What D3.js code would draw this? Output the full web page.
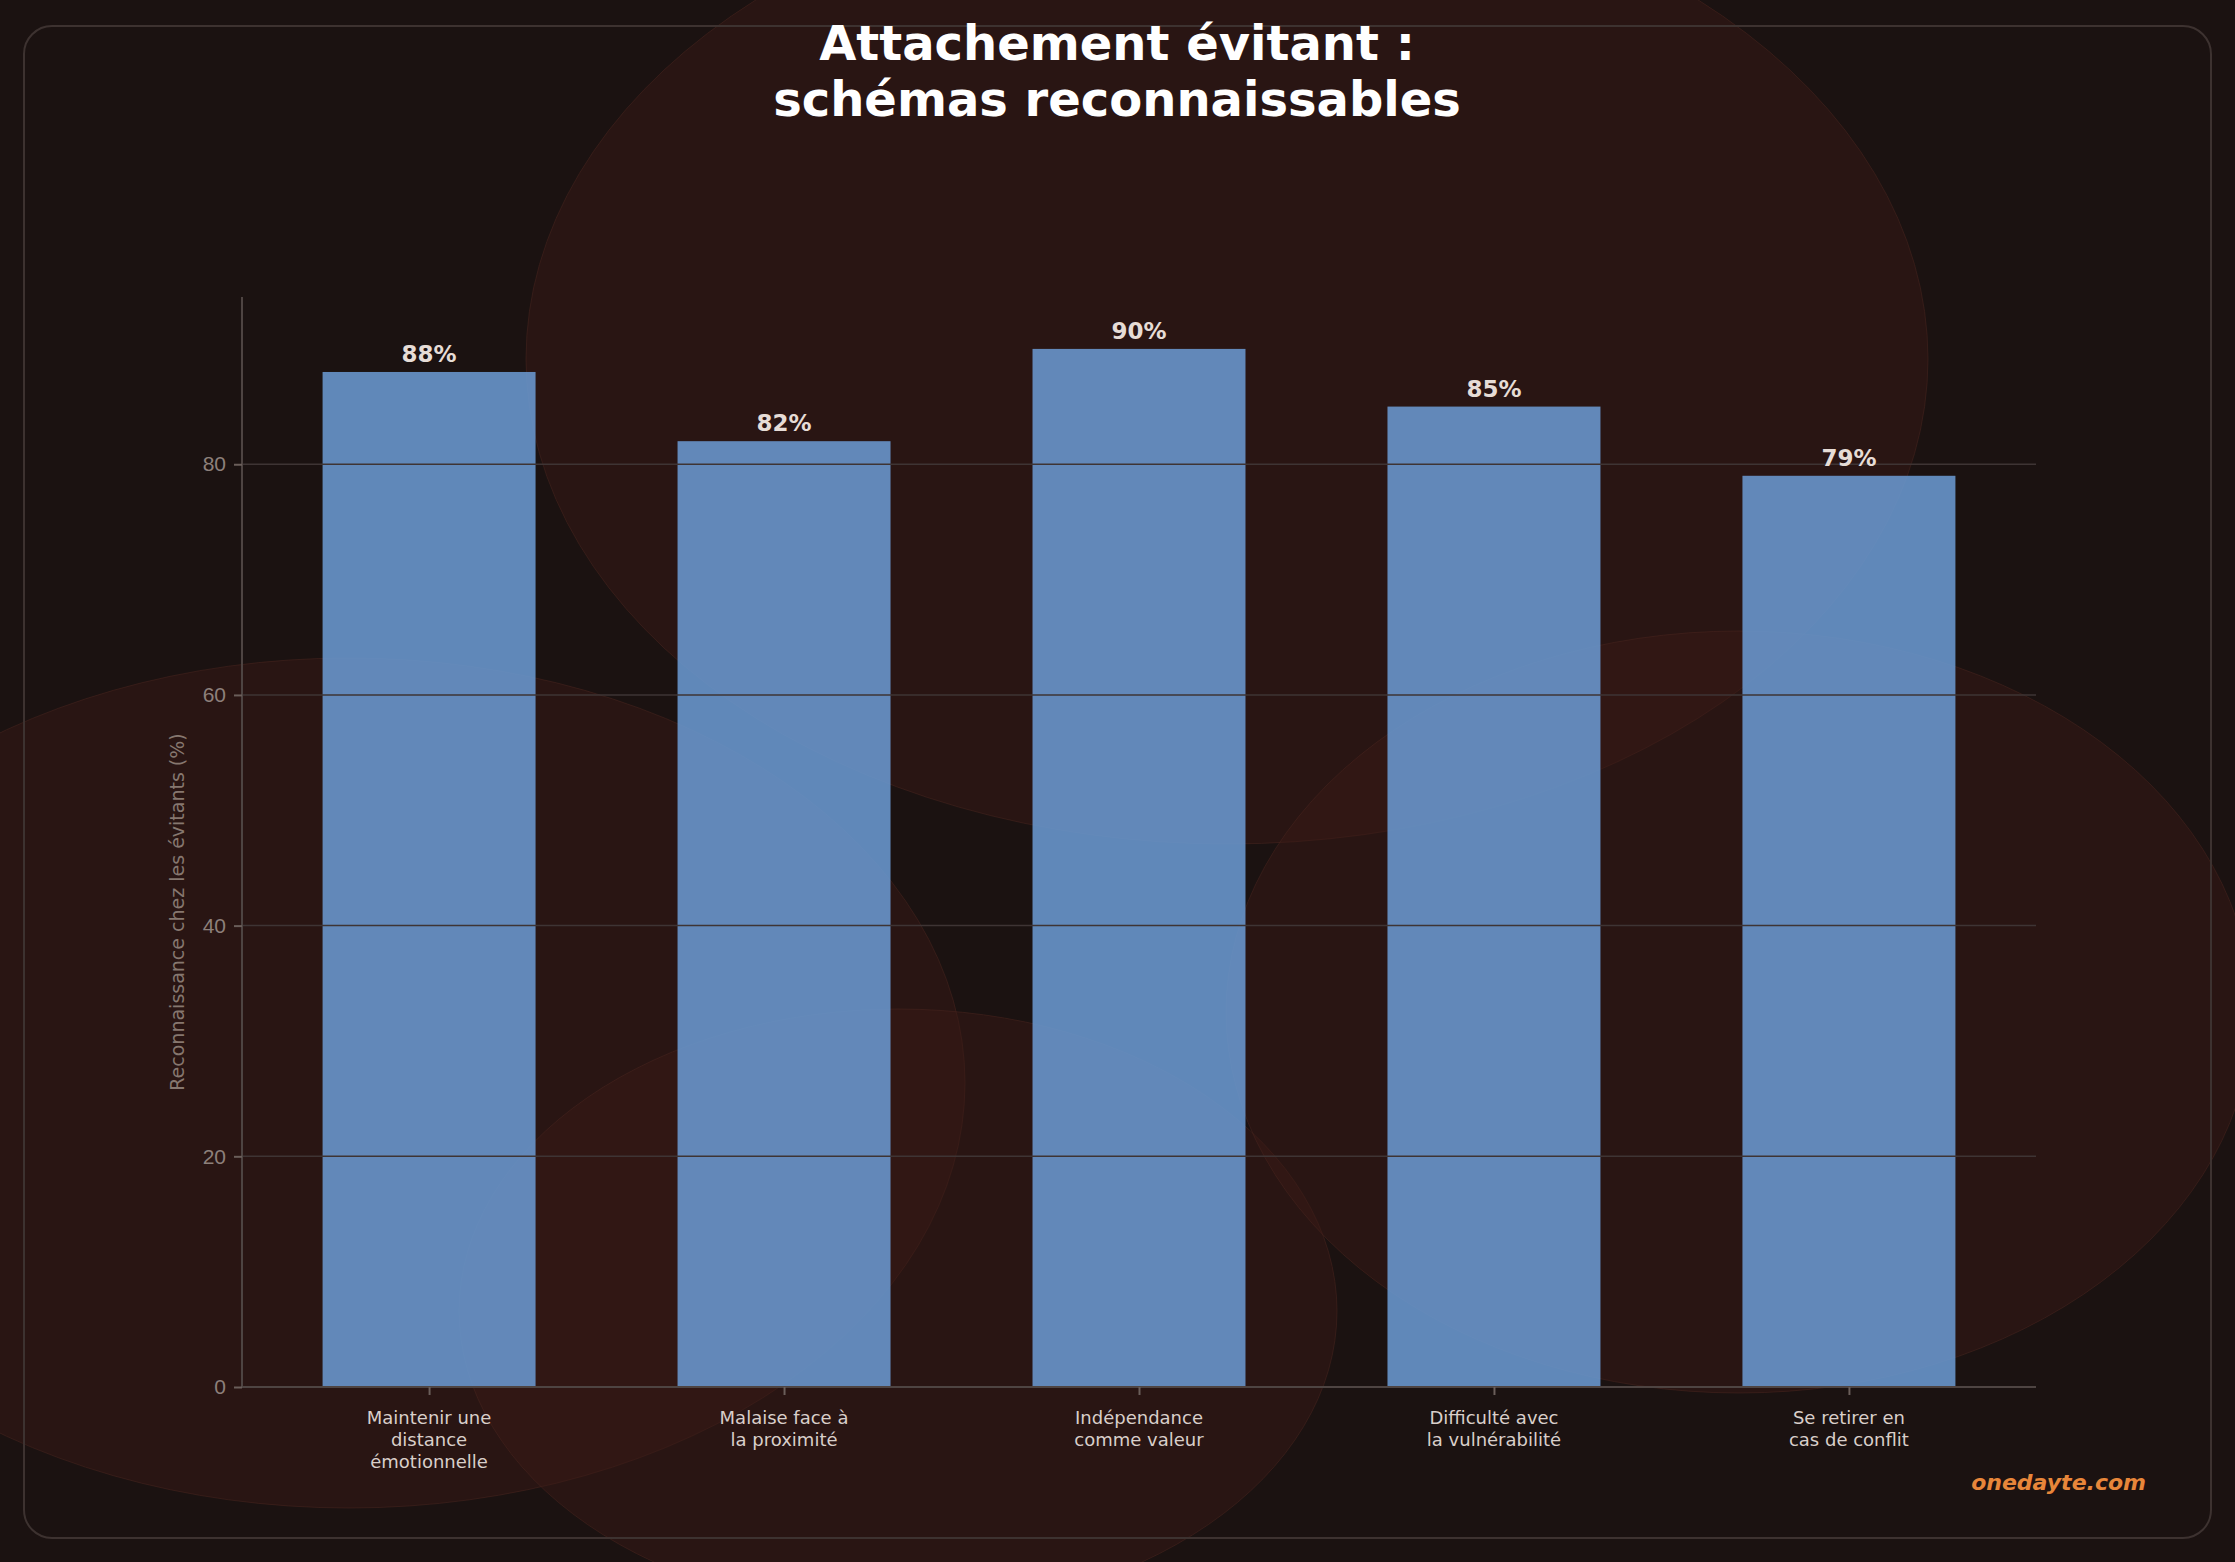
<!DOCTYPE html>
<html><head><meta charset="utf-8">
<script src="https://cdn.jsdelivr.net/npm/d3@7"></script>
<style>body{margin:0;background:#1b1211;}svg{display:block;font-family:"DejaVu Sans",sans-serif;}</style>
</head><body>
<script>
var w = 2235, h = 1562;

// data
var categories = ["Maintenir une\ndistance\némotionnelle", "Malaise face à\nla proximité", "Indépendance\ncomme valeur", "Difficulté avec\nla vulnérabilité", "Se retirer en\ncas de conflit"];
var values = [88, 82, 90, 85, 79];
var yTicks = [0, 20, 40, 60, 80];

var svg = d3.select("body").append("svg").attr("width", w).attr("height", h);
svg.append("rect").attr("width", w).attr("height", h).attr("fill", "#1b1211");

// soft background blobs
var blobs = [[1227, 359, 701, 485], [349, 1083, 616, 425], [898, 1311, 439, 302], [1739, 1012, 513, 381]];
svg.selectAll("ellipse").data(blobs).enter().append("ellipse")
    .attr("cx", d => d[0]).attr("cy", d => d[1]).attr("rx", d => d[2]).attr("ry", d => d[3])
    .attr("fill", "#3c1a16").attr("fill-opacity", 0.45)
    .attr("stroke", "#4a2620").attr("stroke-opacity", 0.5);

svg.append("rect").attr("x", 24).attr("y", 26).attr("width", 2187).attr("height", 1512)
    .attr("rx", 28).attr("fill", "none").attr("stroke", "#3d3230").attr("stroke-width", 2);

var pLeft = 242, pRight = 2036, pTop = 297, pBottom = 1387;
var x = d3.scaleLinear().domain([-0.527, 4.527]).range([pLeft, pRight]);
var y = d3.scaleLinear().domain([0, 94.5]).range([pBottom, pTop]);
var bw = x(0.6) - x(0);

// bars
svg.append("g").selectAll("rect").data(values).enter().append("rect")
    .attr("x", (d, i) => x(i) - bw / 2).attr("width", bw)
    .attr("y", d => y(d)).attr("height", d => y(0) - y(d))
    .attr("fill", "#6a98d0").attr("fill-opacity", 0.88);

// grid over bars
svg.append("g").selectAll("line").data(yTicks.slice(1)).enter().append("line")
    .attr("x1", pLeft).attr("x2", pRight).attr("y1", d => y(d)).attr("y2", d => y(d))
    .attr("stroke", "#3e3434").attr("stroke-width", 1.5);

// axes
var yAxis = svg.append("g").attr("transform", "translate(" + pLeft + ",0)")
    .call(d3.axisLeft(y).tickValues(yTicks).tickSize(8).tickPadding(8));
var xAxis = svg.append("g").attr("transform", "translate(0," + pBottom + ")")
    .call(d3.axisBottom(x).tickValues(d3.range(categories.length)).tickFormat("").tickSize(8));
[yAxis, xAxis].forEach(a => {
    a.select(".domain").attr("stroke", "#4e4442").attr("stroke-width", 2);
    a.selectAll(".tick line").attr("stroke", "#6a5e5a").attr("stroke-width", 2);
});
yAxis.selectAll("text").attr("fill", "#8d807b").attr("font-size", 21);
yAxis.select(".domain").attr("d", "M0," + pTop + "V" + pBottom);
xAxis.select(".domain").attr("d", "M" + pLeft + ",0H" + pRight);

// category labels
categories.forEach((c, i) => {
    var t = svg.append("text").attr("x", x(i)).attr("y", pBottom + 37)
        .attr("text-anchor", "middle").attr("fill", "#d9cfca").attr("font-size", 18);
    c.split("\n").forEach((l, j) => t.append("tspan").attr("x", x(i)).attr("dy", j ? 22 : 0).text(l));
});

// value labels
svg.append("g").selectAll("text").data(values).enter().append("text")
    .attr("x", (d, i) => x(i)).attr("y", d => y(d) - 10)
    .attr("text-anchor", "middle").attr("fill", "#e6dcd6").attr("font-size", 23).attr("font-weight", "bold")
    .text(d => d + "%");

// y label
svg.append("text").attr("transform", "translate(184," + ((pTop + pBottom) / 2 + 70) + ") rotate(-90)")
    .attr("text-anchor", "middle").attr("fill", "#86776f").attr("font-size", 19)
    .text("Reconnaissance chez les évitants (%)");

// title
svg.append("text").attr("x", 1117).attr("y", 60).attr("text-anchor", "middle")
    .attr("fill", "#ffffff").attr("font-size", 48).attr("font-weight", "bold").text("Attachement évitant :");
svg.append("text").attr("x", 1117).attr("y", 116).attr("text-anchor", "middle")
    .attr("fill", "#ffffff").attr("font-size", 48).attr("font-weight", "bold").text("schémas reconnaissables");

svg.append("text").attr("x", 2146).attr("y", 1490).attr("text-anchor", "end")
    .attr("fill", "#e8863a").attr("font-size", 22).attr("font-weight", "bold").attr("font-style", "italic")
    .text("onedayte.com");
</script>
</body></html>
